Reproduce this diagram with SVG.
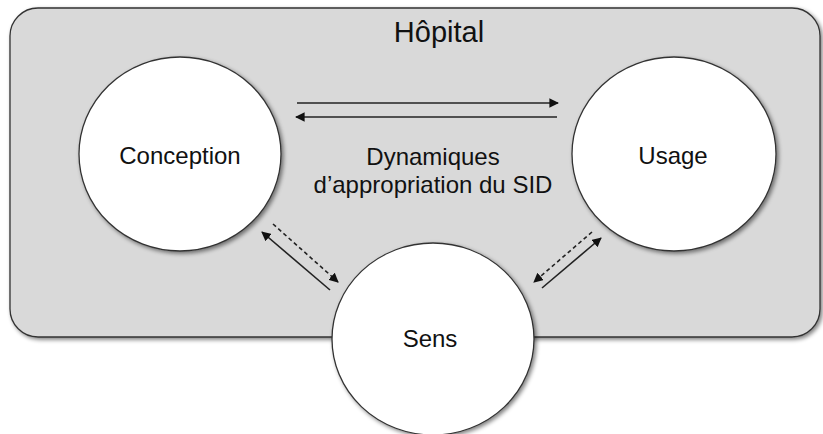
<svg xmlns="http://www.w3.org/2000/svg" width="823" height="434" viewBox="0 0 823 434">
<defs>
<style>
.lbl{font-family:"Liberation Sans",Arial,sans-serif;fill:#111;text-anchor:middle}
.node{fill:#fff;stroke:#333;stroke-width:1.3}
.c{stroke:#222;stroke-width:1.6;fill:none}
.d{stroke:#222;stroke-width:1.6;fill:none;stroke-dasharray:4,3}
</style>
<marker id="ah" viewBox="0 0 10 10" refX="9" refY="5" markerWidth="6" markerHeight="6" orient="auto" markerUnits="strokeWidth">
<path d="M0,0 L10,5 L0,10 z" fill="#111"/>
</marker>
<filter id="sh" x="-20%" y="-20%" width="140%" height="140%">
<feGaussianBlur in="SourceAlpha" stdDeviation="2"/>
<feOffset dx="2" dy="2" result="b"/>
<feComponentTransfer><feFuncA type="linear" slope="0.5"/></feComponentTransfer>
<feMerge><feMergeNode/><feMergeNode in="SourceGraphic"/></feMerge>
</filter>
</defs>
<rect width="823" height="434" fill="#fff"/>
<g id="hopital">
<rect x="10" y="8" width="810" height="329" rx="28" ry="28" fill="#d9d9d9" stroke="#333" stroke-width="1.3" filter="url(#sh)"/>
<text class="lbl" x="439" y="42" font-size="29">Hôpital</text>
</g>
<g id="connectors">
<line class="c" x1="297" y1="103" x2="558" y2="103" marker-end="url(#ah)"/>
<line class="c" x1="557" y1="117" x2="296" y2="117" marker-end="url(#ah)"/>
<line class="c" x1="330" y1="290" x2="262" y2="232" marker-end="url(#ah)"/>
<line class="d" x1="273" y1="224" x2="338" y2="282" marker-end="url(#ah)"/>
<line class="d" x1="592" y1="232" x2="534" y2="282" marker-end="url(#ah)"/>
<line class="c" x1="542" y1="288" x2="601" y2="238" marker-end="url(#ah)"/>
</g>
<g id="label-dynamiques">
<text class="lbl" x="433" y="165" font-size="24">Dynamiques</text>
<text class="lbl" x="433" y="193" font-size="24">d’appropriation du SID</text>
</g>
<g id="conception">
<ellipse class="node" cx="180" cy="154" rx="101" ry="97" filter="url(#sh)"/>
<text class="lbl" x="180" y="164" font-size="24">Conception</text>
</g>
<g id="usage">
<ellipse class="node" cx="674" cy="154" rx="102" ry="97" filter="url(#sh)"/>
<text class="lbl" x="673" y="164" font-size="24">Usage</text>
</g>
<g id="sens">
<ellipse class="node" cx="433" cy="339" rx="101" ry="96" filter="url(#sh)"/>
<text class="lbl" x="430" y="347" font-size="24">Sens</text>
</g>
</svg>
